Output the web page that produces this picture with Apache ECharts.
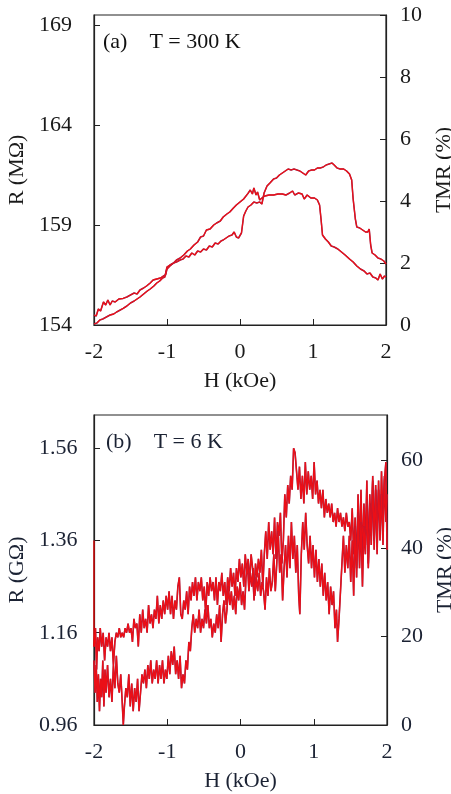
<!DOCTYPE html>
<html>
<head>
<meta charset="utf-8">
<script src="https://cdn.jsdelivr.net/npm/echarts@6/dist/echarts.min.js"></script>
<style>
  html, body { margin: 0; padding: 0; background: #fff; }
  #chart { width: 451px; height: 794px; }
</style>
</head>
<body>
<div id="chart"></div>
<script>
// (a) T = 300 K, R in MOhm, [H (kOe), R]
const topSweepA = [
  [-2.00,154.5],[-1.97,154.45],[-1.94,154.8],[-1.91,154.7],[-1.87,155.15],[-1.84,155.0],[-1.81,155.25],[-1.78,155.0],
  [-1.75,155.2],[-1.71,155.15],[-1.66,155.3],[-1.60,155.33],[-1.55,155.4],[-1.50,155.5],[-1.45,155.6],[-1.41,155.55],
  [-1.37,155.75],[-1.32,155.85],[-1.28,155.95],[-1.23,156.1],[-1.19,156.25],[-1.14,156.3],[-1.09,156.35],[-1.05,156.45],
  [-1.02,156.5],[-1.00,156.8],[-0.96,156.95],[-0.91,157.1],[-0.87,157.25],[-0.82,157.35],[-0.77,157.5],[-0.72,157.7],
  [-0.68,157.8],[-0.63,158.0],[-0.58,158.15],[-0.54,158.4],[-0.50,158.45],[-0.46,158.75],[-0.41,158.8],[-0.36,159.0],
  [-0.32,159.1],[-0.27,159.2],[-0.23,159.4],[-0.18,159.55],[-0.14,159.65],[-0.09,159.85],[-0.05,160.0],[0.00,160.15],
  [0.05,160.3],[0.11,160.58],[0.14,160.75],[0.17,160.55],[0.19,160.85],[0.22,160.5],[0.24,160.65],[0.27,160.25],
  [0.30,160.35],[0.34,160.45],[0.40,160.5],[0.46,160.5],[0.52,160.55],[0.58,160.55],[0.63,160.5],[0.68,160.6],
  [0.72,160.7],[0.75,160.5],[0.80,160.6],[0.85,160.55],[0.88,160.3],[0.92,160.5],[0.97,160.35],[1.02,160.35],
  [1.06,160.25],[1.09,160.0],[1.11,159.3],[1.13,158.5],[1.17,158.3],[1.21,158.15],[1.25,157.95],[1.29,157.9],
  [1.34,157.8],[1.39,157.65],[1.44,157.5],[1.50,157.3],[1.55,157.15],[1.60,156.95],[1.65,156.8],[1.70,156.7],
  [1.74,156.55],[1.78,156.6],[1.82,156.4],[1.86,156.35],[1.89,156.25],[1.92,156.55],[1.95,156.3],[1.98,156.45],[2.00,156.4]
];
const topSweepB = [
  [-2.00,154.05],[-1.96,154.1],[-1.92,154.25],[-1.88,154.3],[-1.83,154.4],[-1.78,154.5],[-1.73,154.55],[-1.69,154.65],
  [-1.64,154.75],[-1.60,154.83],[-1.55,154.95],[-1.50,155.1],[-1.45,155.2],[-1.41,155.3],[-1.37,155.4],[-1.32,155.55],
  [-1.27,155.7],[-1.23,155.8],[-1.18,155.95],[-1.14,156.1],[-1.10,156.2],[-1.06,156.35],[-1.03,156.4],[-1.00,156.9],
  [-0.96,157.0],[-0.91,157.1],[-0.87,157.15],[-0.82,157.25],[-0.78,157.3],[-0.74,157.45],[-0.70,157.4],[-0.66,157.6],
  [-0.62,157.5],[-0.58,157.7],[-0.54,157.65],[-0.50,157.8],[-0.46,157.75],[-0.42,157.95],[-0.38,157.9],[-0.34,158.1],
  [-0.30,158.05],[-0.26,158.2],[-0.23,158.25],[-0.19,158.35],[-0.15,158.45],[-0.11,158.5],[-0.08,158.65],[-0.05,158.4],
  [-0.02,158.35],[0.02,158.6],[0.05,159.45],[0.08,159.7],[0.11,159.9],[0.15,160.0],[0.19,160.15],[0.23,160.1],
  [0.27,160.15],[0.30,160.05],[0.33,160.6],[0.37,160.95],[0.41,161.1],[0.46,161.3],[0.50,161.35],[0.54,161.5],
  [0.58,161.6],[0.62,161.7],[0.66,161.8],[0.70,161.75],[0.74,161.8],[0.78,161.75],[0.82,161.7],[0.86,161.6],
  [0.90,161.5],[0.94,161.7],[0.98,161.75],[1.02,161.75],[1.06,161.85],[1.10,161.85],[1.14,161.9],[1.18,162.0],
  [1.22,162.05],[1.26,162.1],[1.29,162.0],[1.33,161.85],[1.37,161.8],[1.42,161.8],[1.46,161.7],[1.50,161.55],
  [1.53,161.25],[1.55,160.3],[1.58,159.3],[1.60,158.9],[1.64,158.85],[1.68,158.75],[1.72,158.65],[1.75,158.65],
  [1.77,158.8],[1.79,158.0],[1.81,157.6],[1.85,157.5],[1.89,157.35],[1.93,157.3],[1.97,157.2],[2.00,157.05]
];

// (b) T = 6 K, R in GOhm, [H (kOe), R]
const lowEdge = [[-2.00,1.36],[-2.00,1.13]];
const lowSweepU = [
  [-2.000,1.13],[-1.980,1.17],[-1.965,1.08],[-1.950,1.15],[-1.930,1.12],[-1.915,1.17],[-1.895,1.13],[-1.875,1.16],
  [-1.855,1.10],[-1.835,1.15],[-1.815,1.13],[-1.795,1.16],[-1.775,1.12],[-1.755,1.15],[-1.735,1.09],[-1.715,1.14],
  [-1.695,1.16],[-1.675,1.15],[-1.655,1.17],[-1.635,1.15],[-1.615,1.16],[-1.595,1.15],[-1.575,1.17],[-1.555,1.16],
  [-1.535,1.18],[-1.515,1.16],[-1.495,1.17],[-1.475,1.14],[-1.455,1.19],[-1.435,1.17],[-1.415,1.18],[-1.395,1.13],
  [-1.375,1.20],[-1.355,1.16],[-1.335,1.21],[-1.315,1.17],[-1.295,1.19],[-1.275,1.16],[-1.255,1.22],[-1.235,1.18],
  [-1.215,1.20],[-1.195,1.17],[-1.175,1.21],[-1.155,1.19],[-1.135,1.24],[-1.115,1.18],[-1.095,1.22],[-1.075,1.19],
  [-1.055,1.23],[-1.035,1.20],[-1.015,1.24],[-0.995,1.21],[-0.975,1.25],[-0.955,1.20],[-0.935,1.24],[-0.915,1.19],
  [-0.895,1.23],[-0.875,1.21],[-0.855,1.26],[-0.835,1.28],[-0.815,1.20],[-0.795,1.19],[-0.775,1.23],[-0.755,1.21],
  [-0.735,1.25],[-0.715,1.20],[-0.695,1.26],[-0.675,1.23],[-0.655,1.27],[-0.635,1.24],[-0.615,1.28],[-0.595,1.23],
  [-0.575,1.27],[-0.555,1.25],[-0.535,1.28],[-0.515,1.23],[-0.495,1.26],[-0.475,1.20],[-0.455,1.27],[-0.435,1.24],
  [-0.415,1.28],[-0.395,1.25],[-0.375,1.27],[-0.355,1.23],[-0.335,1.28],[-0.315,1.22],[-0.295,1.27],[-0.275,1.25],
  [-0.255,1.29],[-0.235,1.24],[-0.215,1.27],[-0.195,1.22],[-0.175,1.28],[-0.155,1.25],[-0.135,1.30],[-0.115,1.26],
  [-0.095,1.29],[-0.075,1.24],[-0.055,1.30],[-0.035,1.27],[-0.015,1.32],[0.005,1.28],[0.025,1.31],[0.045,1.26],
  [0.065,1.33],[0.085,1.29],[0.105,1.32],[0.125,1.27],[0.145,1.33],[0.165,1.30],[0.185,1.23],[0.205,1.31],
  [0.225,1.28],[0.245,1.32],[0.265,1.29],[0.285,1.34],[0.305,1.26],[0.325,1.33],[0.345,1.38],[0.365,1.32],
  [0.385,1.40],[0.405,1.34],[0.425,1.38],[0.445,1.33],[0.465,1.41],[0.485,1.32],[0.505,1.40],[0.525,1.37],
  [0.545,1.42],[0.565,1.31],[0.585,1.36],[0.605,1.46],[0.625,1.41],[0.645,1.48],[0.665,1.44],[0.685,1.50],
  [0.705,1.47],[0.725,1.56],[0.745,1.55],[0.765,1.51],[0.785,1.47],[0.805,1.52],[0.825,1.45],[0.845,1.50],
  [0.865,1.44],[0.885,1.53],[0.905,1.46],[0.925,1.51],[0.945,1.47],[0.965,1.50],[0.985,1.45],[1.005,1.53],
  [1.025,1.46],[1.045,1.49],[1.065,1.44],[1.085,1.47],[1.105,1.43],[1.125,1.47],[1.145,1.41],[1.165,1.45],
  [1.185,1.42],[1.205,1.44],[1.225,1.41],[1.245,1.44],[1.265,1.40],[1.285,1.42],[1.305,1.39],[1.325,1.43],
  [1.345,1.40],[1.365,1.42],[1.385,1.39],[1.405,1.41],[1.425,1.38],[1.445,1.42],[1.465,1.39],[1.485,1.40],
  [1.505,1.36],[1.525,1.43],[1.545,1.33],[1.565,1.41],[1.585,1.30],[1.605,1.46],[1.625,1.34],[1.645,1.47],
  [1.665,1.32],[1.685,1.44],[1.705,1.35],[1.725,1.49],[1.745,1.31],[1.765,1.46],[1.785,1.37],[1.805,1.49],
  [1.825,1.34],[1.845,1.48],[1.865,1.39],[1.885,1.47],[1.905,1.36],[1.925,1.51],[1.945,1.41],[1.965,1.49],
  [1.985,1.53],[2.000,1.34]
];
const lowSweepL = [
  [-2.000,1.10],[-1.985,1.03],[-1.970,1.09],[-1.955,1.01],[-1.940,1.07],[-1.925,0.99],[-1.910,1.06],[-1.895,1.02],
  [-1.880,1.10],[-1.865,1.00],[-1.850,1.08],[-1.835,1.03],[-1.815,1.09],[-1.795,1.02],[-1.775,1.06],[-1.755,1.01],
  [-1.735,1.09],[-1.715,1.04],[-1.695,1.11],[-1.675,1.05],[-1.655,1.03],[-1.635,1.07],[-1.615,1.01],[-1.600,0.96],
  [-1.585,1.00],[-1.565,1.04],[-1.545,1.02],[-1.525,1.07],[-1.505,1.00],[-1.485,1.05],[-1.465,0.99],[-1.445,1.04],
  [-1.425,1.01],[-1.405,1.06],[-1.385,0.99],[-1.365,1.03],[-1.345,1.07],[-1.325,1.05],[-1.305,1.08],[-1.285,1.04],
  [-1.265,1.09],[-1.245,1.06],[-1.225,1.10],[-1.205,1.05],[-1.185,1.08],[-1.165,1.06],[-1.145,1.10],[-1.125,1.05],
  [-1.105,1.09],[-1.085,1.06],[-1.065,1.10],[-1.045,1.05],[-1.025,1.08],[-1.005,1.06],[-0.985,1.11],[-0.965,1.07],
  [-0.945,1.12],[-0.925,1.09],[-0.905,1.13],[-0.885,1.07],[-0.865,1.10],[-0.845,1.06],[-0.825,1.11],[-0.805,1.04],
  [-0.785,1.07],[-0.765,1.05],[-0.745,1.10],[-0.725,1.08],[-0.705,1.14],[-0.685,1.12],[-0.665,1.17],[-0.645,1.20],
  [-0.625,1.16],[-0.605,1.19],[-0.585,1.17],[-0.565,1.21],[-0.545,1.16],[-0.525,1.19],[-0.505,1.17],[-0.485,1.21],
  [-0.465,1.18],[-0.445,1.22],[-0.425,1.17],[-0.405,1.19],[-0.385,1.15],[-0.365,1.18],[-0.345,1.16],[-0.325,1.20],
  [-0.305,1.17],[-0.285,1.22],[-0.265,1.14],[-0.245,1.20],[-0.225,1.23],[-0.205,1.18],[-0.185,1.21],[-0.165,1.26],
  [-0.145,1.22],[-0.125,1.25],[-0.105,1.21],[-0.085,1.24],[-0.065,1.20],[-0.045,1.26],[-0.025,1.23],[-0.005,1.27],
  [0.015,1.22],[0.035,1.25],[0.055,1.21],[0.075,1.28],[0.095,1.31],[0.115,1.25],[0.135,1.29],[0.155,1.26],
  [0.175,1.30],[0.195,1.24],[0.215,1.28],[0.235,1.25],[0.255,1.29],[0.275,1.24],[0.295,1.27],[0.315,1.25],
  [0.335,1.21],[0.355,1.28],[0.375,1.24],[0.395,1.30],[0.415,1.25],[0.435,1.27],[0.455,1.33],[0.475,1.25],
  [0.495,1.31],[0.515,1.38],[0.535,1.29],[0.555,1.33],[0.575,1.23],[0.595,1.30],[0.615,1.35],[0.635,1.28],
  [0.655,1.37],[0.675,1.30],[0.695,1.40],[0.715,1.32],[0.735,1.37],[0.755,1.29],[0.775,1.35],[0.795,1.24],
  [0.810,1.20],[0.830,1.33],[0.850,1.40],[0.870,1.34],[0.890,1.42],[0.910,1.35],[0.930,1.31],[0.950,1.37],
  [0.970,1.30],[0.990,1.35],[1.010,1.28],[1.030,1.34],[1.050,1.27],[1.070,1.32],[1.090,1.26],[1.110,1.31],
  [1.130,1.24],[1.150,1.29],[1.170,1.23],[1.190,1.27],[1.210,1.20],[1.230,1.26],[1.250,1.22],[1.270,1.25],
  [1.290,1.17],[1.310,1.21],[1.325,1.14],[1.345,1.19],[1.365,1.25],[1.385,1.31],[1.405,1.37],[1.425,1.29],
  [1.445,1.35],[1.465,1.30],[1.485,1.37],[1.505,1.27],[1.525,1.36],[1.545,1.24],[1.565,1.39],[1.585,1.28],
  [1.605,1.42],[1.625,1.30],[1.645,1.40],[1.665,1.26],[1.685,1.39],[1.705,1.33],[1.725,1.45],[1.745,1.30],
  [1.765,1.44],[1.785,1.35],[1.805,1.50],[1.825,1.36],[1.845,1.47],[1.865,1.33],[1.885,1.49],[1.905,1.38],
  [1.925,1.46],[1.945,1.35],[1.965,1.50],[1.985,1.40],[2.000,1.46]
];

const xTicks = { min: -2, max: 2, step: 1 };
const topLeftTicks = { min: 154, max: 169.5, step: 5 };
const topRightTicks = { min: 0, max: 10, step: 2 };
const lowLeftTicks = { min: 0.96, max: 1.632, step: 0.2 };
const lowRightTicks = { min: 0, max: 70.2, step: 20 };

const FONT = "Liberation Serif";
const INK = "#222";

function xAxisFor(gridIndex, color) {
  return {
    type: "value", gridIndex: gridIndex,
    min: xTicks.min, max: xTicks.max, interval: xTicks.step,
    name: "H (kOe)", nameLocation: "middle", nameGap: 45,
    nameTextStyle: { fontFamily: FONT, fontSize: 22, color: color },
    axisLine: { show: true, lineStyle: { color: INK, width: 1.2 } },
    axisTick: { inside: true, length: 6, lineStyle: { color: INK } },
    axisLabel: { fontFamily: FONT, fontSize: 22, color: color, margin: 16 },
    splitLine: { show: false },
  };
}

function yAxisFor(gridIndex, ticks, side, name, color, fmt) {
  const left = side == "left";
  return {
    type: "value", gridIndex: gridIndex, position: side,
    min: ticks.min, max: ticks.max, interval: ticks.step,
    name: name, nameLocation: "middle", nameRotate: 90,
    nameGap: left ? 59 : 44,
    nameTextStyle: { fontFamily: FONT, fontSize: 22, color: color },
    axisLine: { show: true, onZero: false, lineStyle: { color: INK, width: 1.2 } },
    axisTick: { inside: true, length: 6, lineStyle: { color: INK } },
    axisLabel: {
      fontFamily: FONT, fontSize: 22, color: color,
      align: "left", margin: left ? 55 : 14,
      showMaxLabel: ticks.max % ticks.step == 0 ? true : false,
      formatter: fmt,
    },
    splitLine: { show: false },
  };
}

// two layers per sweep: dark under-line and red over it, like the original plot
function sweep(data, xi, yi, w) {
  return [
    { type: "line", xAxisIndex: xi, yAxisIndex: yi, data: data, showSymbol: false, silent: true,
      lineStyle: { color: "#7a2458", width: w } },
    { type: "line", xAxisIndex: xi, yAxisIndex: yi, data: data, showSymbol: false, silent: true,
      lineStyle: { color: "#ff0c0c", width: w - 0.2, opacity: 0.85 } },
  ];
}

var chart = echarts.init(document.getElementById("chart"), null, { renderer: "canvas" });

chart.setOption({
  animation: false,
  backgroundColor: "#fff",
  grid: [
    { left: 94, top: 15, width: 292, height: 310, show: true, borderColor: INK, borderWidth: 1.2, outerBoundsMode: "none" },
    { left: 94, top: 415, width: 293, height: 310, show: true, borderColor: INK, borderWidth: 1.2, outerBoundsMode: "none" },
  ],
  xAxis: [xAxisFor(0, "#1a1a1a"), xAxisFor(1, "#1b2233")],
  yAxis: [
    yAxisFor(0, topLeftTicks, "left", "R (MΩ)", "#1a1a1a", v => String(Math.round(v))),
    yAxisFor(0, topRightTicks, "right", "TMR (%)", "#1a1a1a", v => String(Math.round(v))),
    yAxisFor(1, lowLeftTicks, "left", "R (GΩ)", "#1b2233", v => v.toFixed(2)),
    yAxisFor(1, lowRightTicks, "right", "TMR (%)", "#1b2233", v => String(Math.round(v))),
  ],
  graphic: [
    { type: "text", left: 103, top: 31, style: { text: "(a)    T = 300 K", font: '22px "Liberation Serif"', fill: "#111" } },
    { type: "text", left: 106, top: 431, style: { text: "(b)    T = 6 K", font: '22px "Liberation Serif"', fill: "#1b2233" } },
  ],
  series: [].concat(
    sweep(topSweepA, 0, 0, 1.5),
    sweep(topSweepB, 0, 0, 1.5),
    sweep(lowSweepU, 1, 2, 1.6),
    sweep(lowSweepL, 1, 2, 1.6),
    [{ type: "line", xAxisIndex: 1, yAxisIndex: 2, data: lowEdge, showSymbol: false, silent: true,
       lineStyle: { color: "#ff0000", width: 1.2 } }]
  ),
});
</script>
</body>
</html>
